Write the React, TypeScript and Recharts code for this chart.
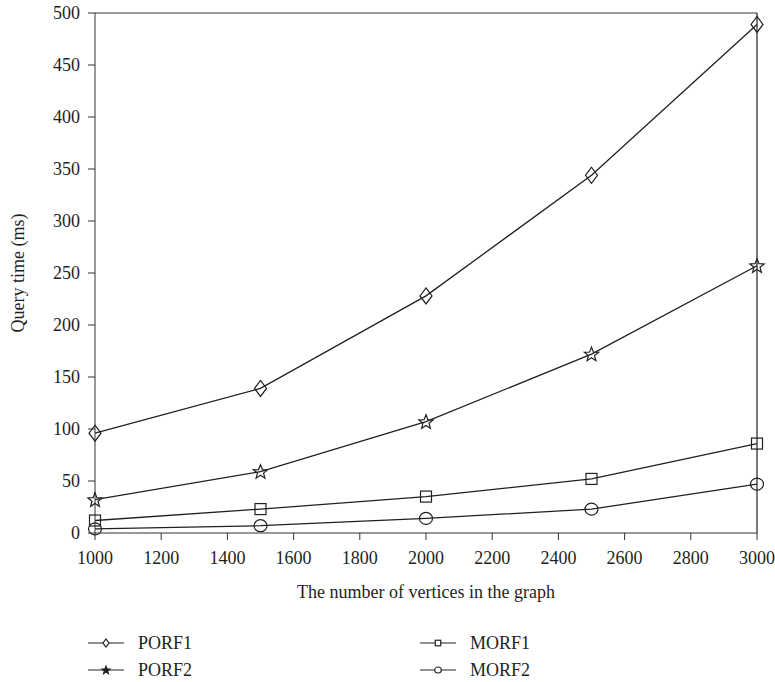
import React from 'react';
import { LineChart, Line, XAxis, YAxis, Legend, ReferenceLine } from 'recharts';

const vertices = [1000, 1500, 2000, 2500, 3000];
const porf1 = [96, 139, 228, 344, 489];
const porf2 = [32, 59, 107, 172, 257];
const morf1 = [12, 23, 35, 52, 86];
const morf2 = [4, 7, 14, 23, 47];

const xTicks = [1000, 1200, 1400, 1600, 1800, 2000, 2200, 2400, 2600, 2800, 3000];
const yTicks = [0, 50, 100, 150, 200, 250, 300, 350, 400, 450, 500];

const data = vertices.map((n, i) => ({
  n,
  porf1: porf1[i],
  porf2: porf2[i],
  morf1: morf1[i],
  morf2: morf2[i],
}));

const FONT = '"Liberation Serif", "Times New Roman", serif';
const INK = '#231f20';

type Shape = 'diamond' | 'star' | 'square' | 'circle';

function starPath(cx: number, cy: number, r: number, ri: number) {
  const pts: string[] = [];
  for (let k = 0; k < 10; k++) {
    const rad = k % 2 === 0 ? r : ri;
    const a = -Math.PI / 2 + (k * Math.PI) / 5;
    pts.push(`${(cx + rad * Math.cos(a)).toFixed(2)},${(cy + rad * Math.sin(a)).toFixed(2)}`);
  }
  return `M${pts.join('L')}Z`;
}

function marker(shape: Shape, cx: number, cy: number, s: number, fill: string) {
  switch (shape) {
    case 'diamond':
      return <path d={`M${cx},${cy - 8 * s}L${cx + 6 * s},${cy}L${cx},${cy + 8 * s}L${cx - 6 * s},${cy}Z`} fill={fill} stroke={INK} strokeWidth={1.2} />;
    case 'star':
      return <path d={starPath(cx, cy + 0.5 * s, 7.5 * s, 3.2 * s)} fill={fill} stroke={INK} strokeWidth={1.2} />;
    case 'square':
      return <rect x={cx - 5.5 * s} y={cy - 5.5 * s} width={11 * s} height={11 * s} fill={fill} stroke={INK} strokeWidth={1.2} />;
    default:
      return <ellipse cx={cx} cy={cy} rx={6.5 * s} ry={6 * s} fill={fill} stroke={INK} strokeWidth={1.2} />;
  }
}

const makeDot = (shape: Shape) => (props: any) => {
  const { cx, cy, index } = props;
  return <g key={`${shape}-${index}`}>{marker(shape, cx, cy, 1, 'none')}</g>;
};

const legendItems: { name: string; shape: Shape; left: number; top: number }[] = [
  { name: 'PORF1', shape: 'diamond', left: 88, top: 20 },
  { name: 'PORF2', shape: 'star', left: 88, top: 47 },
  { name: 'MORF1', shape: 'square', left: 420, top: 20 },
  { name: 'MORF2', shape: 'circle', left: 420, top: 47 },
];

const renderLegend = () => (
  <div style={{ position: 'relative', width: 775, height: 59, fontFamily: FONT, fontSize: 18, color: INK }}>
    {legendItems.map((it) => (
      <div key={it.name} style={{ position: 'absolute', left: it.left, top: it.top - 10, height: 20, display: 'flex', alignItems: 'center' }}>
        <svg width={36} height={14} style={{ display: 'block' }}>
          <line x1={0} y1={7} x2={36} y2={7} stroke={INK} strokeWidth={1.2} />
          {marker(it.shape, 18, 7, it.shape === 'star' ? 0.55 : 0.5, it.shape === 'star' ? INK : 'white')}
        </svg>
        <span style={{ marginLeft: 14, lineHeight: '20px' }}>{it.name}</span>
      </div>
    ))}
  </div>
);

const XTick = (props: any) => (
  <text x={props.x} y={props.y} dy="0.75em" textAnchor="middle" fill={INK} fontSize={18} fontFamily={FONT}>
    {props.payload.value}
  </text>
);

const YTick = (props: any) => (
  <text x={props.x} y={props.y} dy="0.34em" textAnchor="end" fill={INK} fontSize={18} fontFamily={FONT}>
    {props.payload.value}
  </text>
);

export default function App() {
  return (
    <div style={{ position: 'absolute', left: 0, top: 0, background: '#fff', fontFamily: FONT }}>
      <LineChart width={775} height={682} data={data} margin={{ top: 13, right: 18, left: 0, bottom: 0 }}>
        <XAxis
          dataKey="n"
          type="number"
          domain={[1000, 3000]}
          ticks={xTicks}
          height={90}
          stroke="#333"
          tickSize={7}
          tickMargin={10}
          tick={<XTick />}
          label={{ value: 'The number of vertices in the graph', position: 'insideTop', offset: 52, fill: INK, fontSize: 18, fontFamily: FONT }}
        />
        <YAxis
          type="number"
          domain={[0, 500]}
          ticks={yTicks}
          width={95}
          stroke="#333"
          tickSize={7}
          tickMargin={8}
          tick={<YTick />}
          label={{ value: 'Query time (ms)', angle: -90, position: 'insideLeft', offset: 18, fill: INK, fontSize: 18, fontFamily: FONT, style: { textAnchor: 'middle' } }}
        />
        <ReferenceLine y={500} stroke="#777" strokeWidth={1.5} />
        <ReferenceLine x={3000} stroke={INK} strokeWidth={1.2} />
        <Legend verticalAlign="bottom" height={59} wrapperStyle={{ left: 0, bottom: 0, width: 775, height: 59 }} content={renderLegend} />
        <Line dataKey="porf1" name="PORF1" stroke={INK} strokeWidth={1.3} dot={makeDot('diamond')} isAnimationActive={false} />
        <Line dataKey="porf2" name="PORF2" stroke={INK} strokeWidth={1.3} dot={makeDot('star')} isAnimationActive={false} />
        <Line dataKey="morf1" name="MORF1" stroke={INK} strokeWidth={1.3} dot={makeDot('square')} isAnimationActive={false} />
        <Line dataKey="morf2" name="MORF2" stroke={INK} strokeWidth={1.3} dot={makeDot('circle')} isAnimationActive={false} />
      </LineChart>
    </div>
  );
}
